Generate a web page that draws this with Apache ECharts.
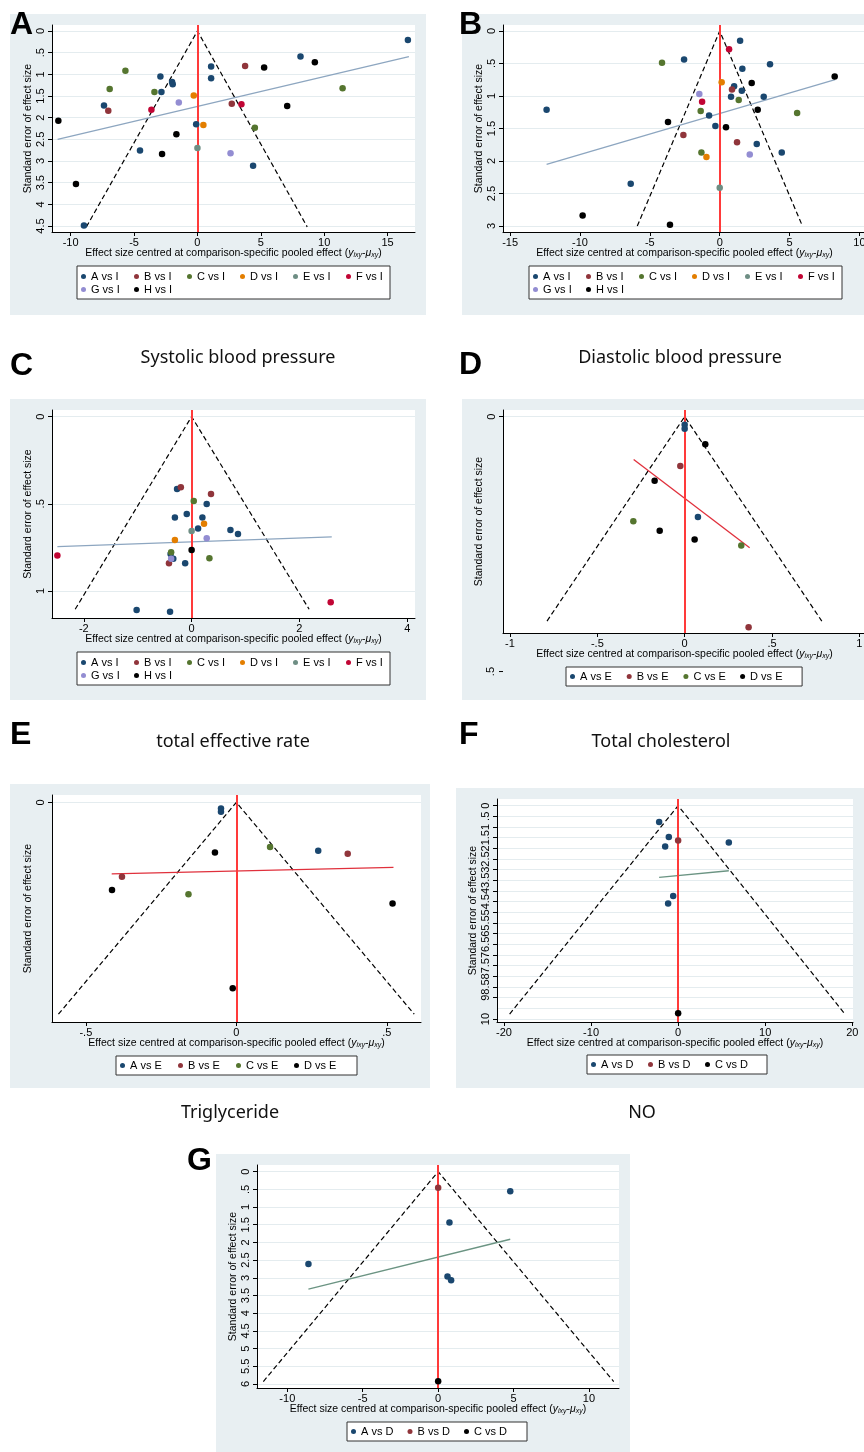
<!DOCTYPE html>
<html>
<head>
<meta charset="utf-8">
<script src="https://cdn.jsdelivr.net/npm/echarts@6/dist/echarts.min.js"></script>
<style>
html, body { margin: 0; padding: 0; background: #fff; }
#container { width: 864px; height: 1452px; }
</style>
</head>
<body>
<div id="container"></div>
<script>
// comparison groups
var groupsI = ['A vs I', 'B vs I', 'C vs I', 'D vs I', 'E vs I', 'F vs I', 'G vs I', 'H vs I'];
var groupsE = ['A vs E', 'B vs E', 'C vs E', 'D vs E'];
var groupsD = ['A vs D', 'B vs D', 'C vs D'];

var panelLetters = ['A', 'B', 'C', 'D', 'E', 'F', 'G'];
var outcomeTitles = ['Systolic blood pressure', 'Diastolic blood pressure', 'total effective rate',
    'Total cholesterol', 'Triglyceride', 'NO'];

// points are [effect centred at pooled effect, standard error]
// panel A
var panelA_AvsI = [[16.6, 0.21], [8.13, 0.59], [1.08, 0.82], [-2.92, 1.05], [1.08, 1.09], [-2.0, 1.18], [-1.95, 1.23],
    [-2.84, 1.41], [-7.37, 1.72], [-0.1, 2.15], [-4.53, 2.76], [4.39, 3.11], [-8.95, 4.49]];
var panelA_BvsI = [[3.76, 0.81], [-7.03, 1.84], [2.71, 1.68]];
var panelA_CvsI = [[-5.68, 0.92], [-6.92, 1.34], [-3.39, 1.41], [11.45, 1.32], [4.53, 2.23]];
var panelA_DvsI = [[-0.29, 1.49], [0.47, 2.17]];
var panelA_EvsI = [[0, 2.7]];
var panelA_FvsI = [[-3.63, 1.82], [3.47, 1.69]];
var panelA_GvsI = [[-1.47, 1.65], [2.61, 2.82]];
var panelA_HvsI = [[5.26, 0.84], [9.26, 0.72], [7.08, 1.73], [-10.97, 2.07], [-1.66, 2.38], [-2.79, 2.84], [-9.58, 3.53]];
var panelA_reg = [[-11.03, 2.5], [16.68, 0.59]];
var panelA_funnel = [[-8.76, 4.52], [0, 0], [8.66, 4.52]];

// panel B
var panelB_AvsI = [[1.46, 0.15], [-2.55, 0.44], [3.6, 0.51], [1.62, 0.58], [1.03, 0.85], [1.58, 0.92], [0.81, 1.01],
    [3.15, 1.01], [-12.39, 1.21], [-0.76, 1.3], [-0.31, 1.46], [2.65, 1.74], [4.44, 1.87], [-6.37, 2.35]];
var panelB_BvsI = [[0.88, 0.9], [-2.6, 1.6], [1.24, 1.71]];
var panelB_CvsI = [[-4.13, 0.49], [1.36, 1.06], [-1.36, 1.23], [5.54, 1.26], [-1.31, 1.87]];
var panelB_DvsI = [[0.14, 0.79], [-0.95, 1.94]];
var panelB_EvsI = [[0, 2.41]];
var panelB_FvsI = [[0.67, 0.28], [-1.26, 1.09]];
var panelB_GvsI = [[-1.46, 0.97], [2.15, 1.9]];
var panelB_HvsI = [[8.23, 0.7], [2.29, 0.8], [2.72, 1.21], [-3.7, 1.4], [0.45, 1.48], [-9.81, 2.84], [-3.56, 2.98]];
var panelB_reg = [[-12.39, 2.05], [8.26, 0.75]];
var panelB_funnel = [[-5.9, 3.0], [0, 0], [5.92, 3.0]];

// panel C
var panelC_AvsI = [[-0.27, 0.415], [-0.31, 0.579], [-0.09, 0.558], [0.28, 0.501], [0.2, 0.579], [0.12, 0.641],
    [0.72, 0.65], [0.86, 0.673], [-0.39, 0.788], [-0.34, 0.815], [-0.12, 0.841], [-1.02, 1.109], [-0.4, 1.119]];
var panelC_BvsI = [[-0.2, 0.405], [0.36, 0.444], [-0.42, 0.841]];
var panelC_CvsI = [[0.04, 0.484], [-0.38, 0.778], [0.33, 0.813]];
var panelC_DvsI = [[0.23, 0.614], [-0.31, 0.707]];
var panelC_EvsI = [[0, 0.656]];
var panelC_FvsI = [[-2.49, 0.797], [2.58, 1.065]];
var panelC_GvsI = [[0.28, 0.698], [-0.38, 0.815]];
var panelC_HvsI = [[0, 0.765]];
var panelC_reg = [[-2.49, 0.746], [2.6, 0.69]];
var panelC_funnel = [[-2.16, 1.105], [0, 0], [2.18, 1.105]];

// panel D
var panelD_AvsE = [[0, 0.016], [0, 0.024], [0.076, 0.197]];
var panelD_BvsE = [[-0.025, 0.097], [0.366, 0.413]];
var panelD_CvsE = [[-0.294, 0.205], [0.324, 0.253]];
var panelD_DvsE = [[0.118, 0.054], [-0.172, 0.126], [-0.143, 0.224], [0.057, 0.241]];
var panelD_reg = [[-0.292, 0.084], [0.372, 0.257]];
var panelD_funnel = [[-0.788, 0.401], [0, 0], [0.785, 0.401]];

// panel E
var panelE_AvsE = [[-0.051, 0.0086], [-0.051, 0.0133], [0.272, 0.0689]];
var panelE_BvsE = [[0.37, 0.0732], [-0.38, 0.106]];
var panelE_CvsE = [[0.112, 0.0637], [-0.159, 0.131]];
var panelE_DvsE = [[-0.071, 0.0713], [-0.413, 0.125], [0.519, 0.144], [-0.012, 0.265]];
var panelE_reg = [[-0.414, 0.102], [0.522, 0.0926]];
var panelE_funnel = [[-0.591, 0.302], [0, 0], [0.591, 0.302]];

// panel F
var panelF_AvsD = [[-2.18, 0.77], [-1.07, 1.47], [-1.49, 1.91], [5.82, 1.73], [-0.57, 4.23], [-1.15, 4.59]];
var panelF_BvsD = [[0, 1.63]];
var panelF_CvsD = [[0, 9.73]];
var panelF_reg = [[-2.18, 3.36], [5.82, 3.05]];
var panelF_funnel = [[-19.35, 9.77], [0, 0], [19.16, 9.77]];

// panel G
var panelG_AvsD = [[4.78, 0.556], [0.75, 1.44], [-8.6, 2.61], [0.62, 2.96], [0.86, 3.07]];
var panelG_BvsD = [[0, 0.452]];
var panelG_CvsD = [[0, 5.92]];
var panelG_reg = [[-8.6, 3.32], [4.78, 1.91]];
var panelG_funnel = [[-11.59, 5.93], [0, 0], [11.64, 5.93]];

// tick labels
var ticksA_x = [-10, -5, 0, 5, 10, 15];
var ticksA_y = [0, 0.5, 1, 1.5, 2, 2.5, 3, 3.5, 4, 4.5];
var ticksB_x = [-15, -10, -5, 0, 5, 10];
var ticksB_y = [0, 0.5, 1, 1.5, 2, 2.5, 3];
var ticksC_x = [-2, 0, 2, 4];
var ticksC_y = [0, 0.5, 1];
var ticksD_x = [-1, -0.5, 0, 0.5, 1];
var ticksD_y = [0, 0.5];
var ticksE_x = [-0.5, 0, 0.5];
var ticksE_y = [0];
var ticksF_x = [-20, -10, 0, 10, 20];
var ticksF_y = [0, 0.5, 1, 1.5, 2, 2.5, 3, 3.5, 4, 4.5, 5, 5.5, 6, 6.5, 7, 7.5, 8, 8.5, 9, 9.5, 10];
var ticksG_x = [-10, -5, 0, 5, 10];
var ticksG_y = [0, 0.5, 1, 1.5, 2, 2.5, 3, 3.5, 4, 4.5, 5, 5.5, 6];

// styles
var FONT = '"Liberation Sans", Arial, Helvetica, sans-serif';
var colorsI = ['#1a476f', '#90353b', '#55752f', '#e37e00', '#6e8e84', '#c10534', '#938dd2', '#000000'];
var colorsE = ['#1a476f', '#90353b', '#55752f', '#000000'];
var colorsD = ['#1a476f', '#90353b', '#000000'];
var panelBg = '#e8eff2';
var gridLineColor = '#e4ecef';

// 每个面板的布局
var panels = [
    { grid: [52, 25, 363, 207], x: [-11.47, 17.16], y: [-0.138, 4.638], xt: ticksA_x, yt: ticksA_y,
      groups: groupsI, colors: colorsI, reg: panelA_reg, regColor: '#8da6c0', funnel: panelA_funnel,
      data: [panelA_AvsI, panelA_BvsI, panelA_CvsI, panelA_DvsI, panelA_EvsI, panelA_FvsI, panelA_GvsI, panelA_HvsI],
      bg: [10, 14, 416, 301], letter: [10, 25], legend: [77, 266, 53, 6, 28] },
    { grid: [503, 25, 363, 207], x: [-15.51, 10.47], y: [-0.092, 3.092], xt: ticksB_x, yt: ticksB_y,
      groups: groupsI, colors: colorsI, reg: panelB_reg, regColor: '#8da6c0', funnel: panelB_funnel,
      data: [panelB_AvsI, panelB_BvsI, panelB_CvsI, panelB_DvsI, panelB_EvsI, panelB_FvsI, panelB_GvsI, panelB_HvsI],
      bg: [462, 14, 402, 301], letter: [459, 25], legend: [529, 266, 53, 6, 28] },
    { grid: [52, 410, 363, 208], x: [-2.59, 4.144], y: [-0.038, 1.155], xt: ticksC_x, yt: ticksC_y,
      groups: groupsI, colors: colorsI, reg: panelC_reg, regColor: '#8da6c0', funnel: panelC_funnel,
      data: [panelC_AvsI, panelC_BvsI, panelC_CvsI, panelC_DvsI, panelC_EvsI, panelC_FvsI, panelC_GvsI, panelC_HvsI],
      bg: [10, 399, 416, 301], letter: [10, 366], legend: [77, 652, 53, 6, 28] },
    { grid: [503, 410, 363, 223], x: [-1.04, 1.038], y: [-0.013, 0.4244], xt: ticksD_x, yt: ticksD_y,
      groups: groupsE, colors: colorsE, reg: panelD_reg, regColor: '#e0303c', funnel: panelD_funnel,
      data: [panelD_AvsE, panelD_BvsE, panelD_CvsE, panelD_DvsE],
      bg: [462, 399, 402, 301], letter: [459, 365], legend: [566, 667, 56.7, 4, 45] },
    { grid: [52, 795, 369, 227], x: [-0.6124, 0.6135], y: [-0.0105, 0.3131], xt: ticksE_x, yt: ticksE_y,
      groups: groupsE, colors: colorsE, reg: panelE_reg, regColor: '#e0303c', funnel: panelE_funnel,
      data: [panelE_AvsE, panelE_BvsE, panelE_CvsE, panelE_DvsE],
      bg: [10, 784, 420, 304], letter: [10, 735], legend: [116, 1056, 58, 4, 46] },
    { grid: [497, 799, 356, 223], x: [-20.8, 20.08], y: [-0.3125, 10.14], xt: ticksF_x, yt: ticksF_y,
      groups: groupsD, colors: colorsD, reg: panelF_reg, regColor: '#6b9483', funnel: panelF_funnel,
      data: [panelF_AvsD, panelF_BvsD, panelF_CvsD],
      bg: [456, 788, 408, 300], letter: [459, 735], legend: [587, 1055, 57, 3, 45] },
    { grid: [257, 1165, 362, 223], x: [-12.01, 11.99], y: [-0.188, 6.113], xt: ticksG_x, yt: ticksG_y,
      groups: groupsD, colors: colorsD, reg: panelG_reg, regColor: '#6b9483', funnel: panelG_funnel,
      data: [panelG_AvsD, panelG_BvsD, panelG_CvsD],
      bg: [216, 1154, 414, 298], letter: [187, 1161], legend: [347, 1422, 56.5, 3, 46] }
];

// 标题位置
var titlePos = [[238, 358], [680, 358], [233, 742], [661, 742], [230, 1113], [642, 1113]];

function stataFmt(v) {
    return String(+v.toFixed(4)).replace(/^(-?)0\./, '$1.');
}

var xName = 'Effect size centred at comparison-specific pooled effect ({i|y}{s|ixy}{n|-}{i|μ}{s|xy})';

function makeLegend(names, cfg) {
    var left = cfg[0], top = cfg[1], pitch = cfg[2], perRow = cfg[3], lastW = cfg[4];
    var tw = pitch - 12;
    var twoRows = names.length > perRow;
    return {
        left: left, top: top, orient: 'horizontal',
        width: (perRow - 1) * pitch + 10 + lastW + 8,
        data: names, icon: 'circle', itemWidth: 5, itemHeight: 5, itemGap: 2,
        padding: twoRows ? [5, 6, 4, 4] : [4, 7, 4, 4],
        backgroundColor: '#fff', borderColor: '#333', borderWidth: 1, borderRadius: 0,
        selectedMode: false,
        formatter: function(n) {
            var k = names.indexOf(n);
            return (k % perRow === perRow - 1) ? '{u|' + n + '}' : '{t|' + n + '}';
        },
        textStyle: {
            color: '#000', fontFamily: FONT, fontSize: 11,
            rich: {
                t: { width: tw, fontSize: 11, lineHeight: 12, fontFamily: FONT, color: '#000' },
                u: { width: lastW, fontSize: 11, lineHeight: 12, fontFamily: FONT, color: '#000' }
            }
        }
    };
}

var grids = [], xAxes = [], yAxes = [], series = [], legends = [], graphics = [];

panels.forEach(function(p, i) {
    graphics.push({ type: 'rect', z: -100, silent: true,
        shape: { x: p.bg[0], y: p.bg[1], width: p.bg[2], height: p.bg[3] },
        style: { fill: panelBg } });
    graphics.push({ type: 'text', z: 10, silent: true, x: p.letter[0], y: p.letter[1],
        style: { text: panelLetters[i], font: 'bold 32px ' + FONT, fill: '#000',
            align: 'left', textAlign: 'left', verticalAlign: 'middle', textVerticalAlign: 'middle' } });

    grids.push({ left: p.grid[0], top: p.grid[1], width: p.grid[2], height: p.grid[3],
        show: true, backgroundColor: '#fff', borderWidth: 0, containLabel: false, outerBoundsMode: 'none' });

    xAxes.push({
        type: 'value', gridIndex: i, min: p.x[0], max: p.x[1],
        axisLine: { show: true, onZero: false, lineStyle: { color: '#000', width: 1 } },
        axisTick: { show: true, inside: false, length: 4, customValues: p.xt, lineStyle: { color: '#000' } },
        axisLabel: { show: true, customValues: p.xt, margin: 5, color: '#000', fontSize: 11, fontFamily: FONT,
            showMinLabel: true, showMaxLabel: true, formatter: stataFmt },
        splitLine: { show: false },
        name: xName, nameLocation: 'middle', nameGap: 16, nameMoveOverlap: false,
        nameTextStyle: {
            color: '#000', fontSize: 10.5, fontFamily: FONT,
            rich: {
                i: { fontStyle: 'italic', fontSize: 10.5, fontFamily: FONT, color: '#000' },
                s: { fontStyle: 'italic', fontSize: 7, fontFamily: FONT, color: '#000', verticalAlign: 'bottom' },
                n: { fontSize: 10.5, fontFamily: FONT, color: '#000' }
            }
        }
    });

    yAxes.push({
        type: 'value', gridIndex: i, inverse: true, min: p.y[0], max: p.y[1],
        axisLine: { show: true, onZero: false, lineStyle: { color: '#000', width: 1 } },
        axisTick: { show: true, inside: false, length: 4, customValues: p.yt, lineStyle: { color: '#000' } },
        axisLabel: { show: true, customValues: p.yt, rotate: 90, margin: 6, color: '#000', fontSize: 11,
            fontFamily: FONT, showMinLabel: true, showMaxLabel: true, hideOverlap: false, formatter: stataFmt },
        splitLine: { show: true, lineStyle: { color: gridLineColor, width: 1 } },
        name: 'Standard error of effect size', nameLocation: 'middle', nameGap: 18, nameMoveOverlap: false,
        nameTextStyle: { color: '#000', fontSize: 10.5, fontFamily: FONT }
    });

    // 漏斗线 + x=0 红线
    series.push({
        type: 'line', xAxisIndex: i, yAxisIndex: i, data: p.funnel, symbol: 'none', silent: true, z: 2,
        lineStyle: { color: '#000', width: 1.2, type: [5, 3] },
        markLine: { silent: true, symbol: ['none', 'none'], label: { show: false }, animation: false,
            lineStyle: { color: '#ff3a3a', width: 2, type: 'solid' }, data: [{ xAxis: 0 }] }
    });
    // 回归线
    series.push({
        type: 'line', xAxisIndex: i, yAxisIndex: i, data: p.reg, symbol: 'none', silent: true, z: 3,
        lineStyle: { color: p.regColor, width: 1.3 }
    });
    p.groups.forEach(function(g, k) {
        series.push({
            type: 'scatter', name: g, xAxisIndex: i, yAxisIndex: i, data: p.data[k],
            symbol: 'circle', symbolSize: 6.5, z: 5, itemStyle: { color: p.colors[k], opacity: 1 }
        });
    });

    legends.push(makeLegend(p.groups, p.legend));
});

outcomeTitles.forEach(function(t, k) {
    graphics.push({ type: 'text', z: 10, silent: true, x: titlePos[k][0], y: titlePos[k][1],
        style: { text: t, font: '18px "Noto Sans", "Open Sans", sans-serif', fill: '#111',
            align: 'center', textAlign: 'center', verticalAlign: 'middle', textVerticalAlign: 'middle' } });
});

var myChart = echarts.init(document.getElementById('container'));
myChart.setOption({
    animation: false,
    backgroundColor: '#fff',
    grid: grids,
    xAxis: xAxes,
    yAxis: yAxes,
    legend: legends,
    series: series,
    graphic: { elements: graphics }
});

// panel D: Stata prints the ".5" y label below the plot region
var dIdx = 3;
ticksD_y.forEach(function(v) {
    if (v > panels[dIdx].y[1]) {
        var pt = myChart.convertToPixel({ gridIndex: dIdx }, [panels[dIdx].x[0], v]);
        graphics.push({ type: 'line', silent: true, z: 10,
            shape: { x1: pt[0] - 4, y1: pt[1], x2: pt[0], y2: pt[1] },
            style: { stroke: '#000', lineWidth: 1 } });
        graphics.push({ type: 'text', silent: true, z: 10, x: pt[0] - 12, y: pt[1], rotation: Math.PI / 2,
            style: { text: stataFmt(v), font: '11px ' + FONT, fill: '#000',
                align: 'center', textAlign: 'center', verticalAlign: 'middle', textVerticalAlign: 'middle' } });
    }
});
myChart.setOption({ graphic: { elements: graphics } });
</script>
</body>
</html>
